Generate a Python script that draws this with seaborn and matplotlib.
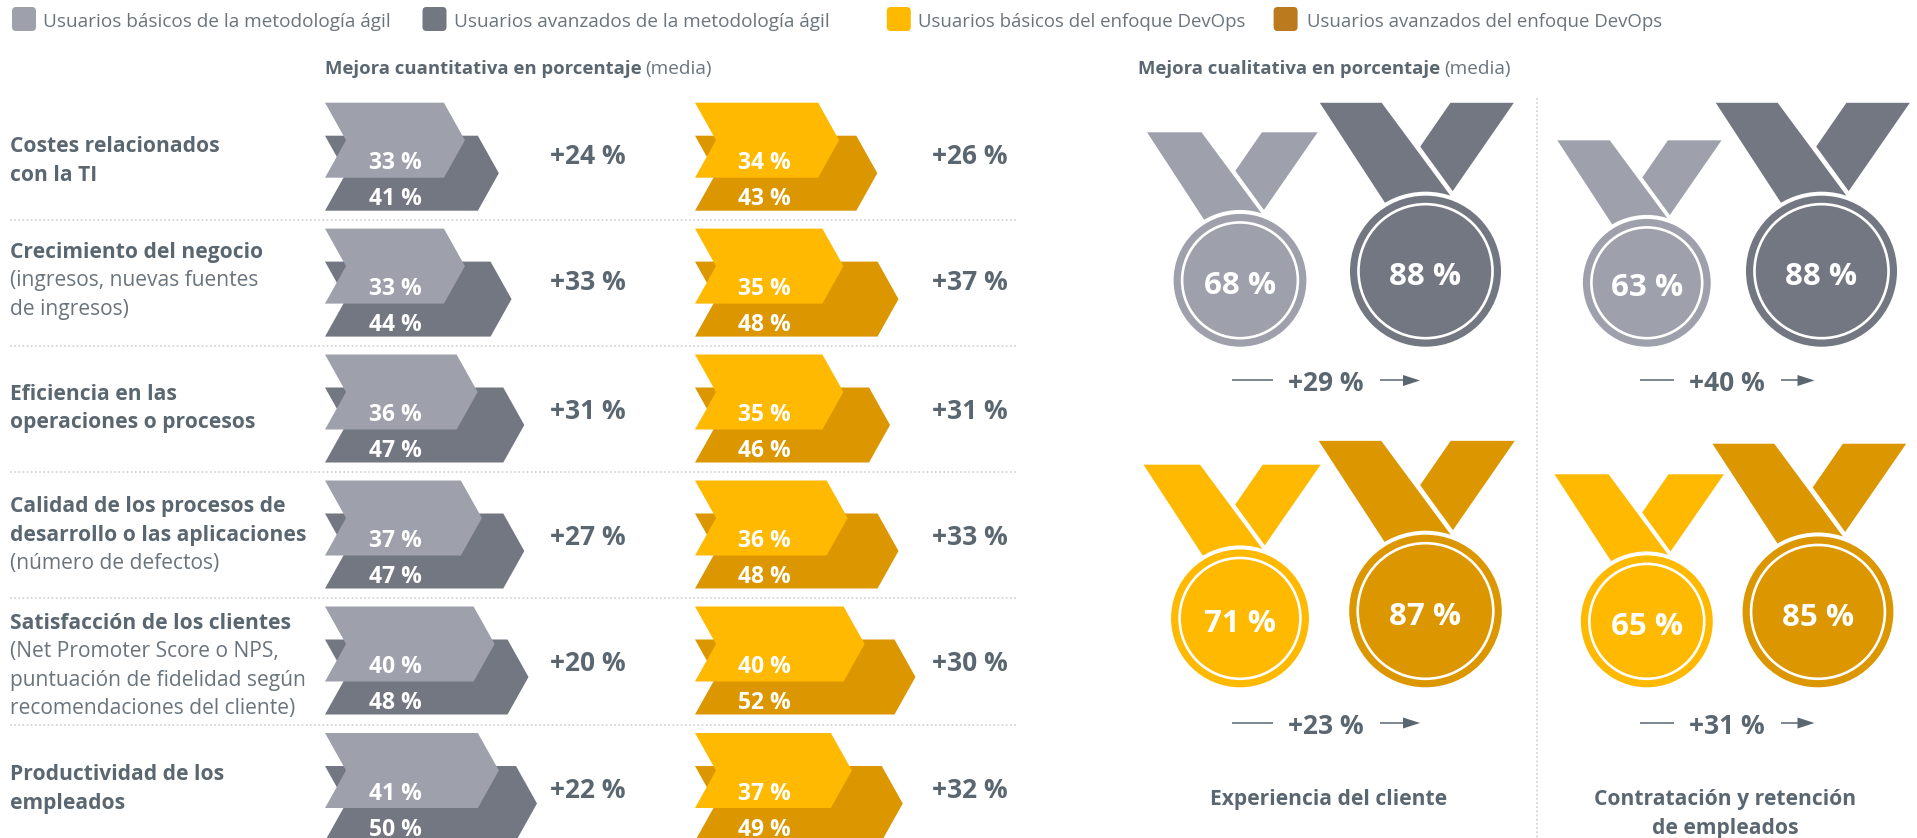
import matplotlib
matplotlib.use("Agg")
import matplotlib.pyplot as plt
from matplotlib.patches import Polygon, Circle, FancyBboxPatch
import numpy as np
import seaborn as sns

sns.set_theme(style="white")
plt.rcParams['font.family'] = ['Open Sans', 'DejaVu Sans']

# ---- data ----
row_labels = [
    [("Costes relacionados", True), ("con la TI", True)],
    [("Crecimiento del negocio", True), ("(ingresos, nuevas fuentes", False), ("de ingresos)", False)],
    [("Eficiencia en las", True), ("operaciones o procesos", True)],
    [("Calidad de los procesos de", True), ("desarrollo o las aplicaciones", True), ("(número de defectos)", False)],
    [("Satisfacción de los clientes", True), ("(Net Promoter Score o NPS,", False),
     ("puntuación de fidelidad según", False), ("recomendaciones del cliente)", False)],
    [("Productividad de los", True), ("empleados", True)],
]
agile_basic = [33, 33, 36, 37, 40, 41]
agile_adv = [41, 44, 47, 47, 48, 50]
agile_delta = [24, 33, 31, 27, 20, 22]
devops_basic = [34, 35, 35, 36, 40, 37]
devops_adv = [43, 48, 46, 48, 52, 49]
devops_delta = [26, 37, 31, 33, 30, 32]

qual_groups = ["Experiencia del cliente", "Contratación y retención\nde empleados"]
qual_agile_basic = [68, 63]
qual_agile_adv = [88, 88]
qual_agile_delta = [29, 40]
qual_devops_basic = [71, 65]
qual_devops_adv = [87, 85]
qual_devops_delta = [23, 31]

legend_labels = ["Usuarios básicos de la metodología ágil", "Usuarios avanzados de la metodología ágil",
                 "Usuarios básicos del enfoque DevOps", "Usuarios avanzados del enfoque DevOps"]

# ---- styles ----
LIGHT, DARK, GOLD, AMBER = sns.color_palette(["#9EA1AB", "#737782", "#FFB900", "#DB9600"])
LEG_AMBER = "#BB7A1D"
INK = "#5A6670"
SOFT = "#6A747C"
DOT = "#CFCFCF"

fig = plt.figure(figsize=(19.17, 8.38), dpi=100, facecolor="white")
ax = fig.add_axes([0, 0, 1, 1])
ax.set_xlim(0, 1917)
ax.set_ylim(838, 0)
ax.axis("off")


def txt(x, y, s, size=14.5, bold=False, color=INK, ha="left", **kw):
    # y is the visual centre of the capitals/digits
    base = y + 0.357 * size * 100 / 72
    ax.text(x, base, s, fontsize=size, fontweight="bold" if bold else "normal", color=color,
            ha=ha, va="baseline", zorder=10, **kw)


# legend
for (x0, w, col), xt, lab, fs in zip([(12, 24, LIGHT), (422.5, 24, DARK), (886.8, 24, GOLD), (1273.6, 24, LEG_AMBER)],
                                     [43, 454, 918, 1307], legend_labels, [13.7, 13.7, 13.4, 13.4]):
    ax.add_patch(FancyBboxPatch((x0 + 4, 11), w - 8, 16, boxstyle="round,pad=4,rounding_size=4",
                                fc=col, ec="none"))
    txt(xt, 20, lab, size=fs, color=SOFT)

# headers
txt(325, 67, "Mejora cuantitativa en porcentaje", size=13.3, bold=True)
txt(645, 67, "(media)", size=13.7, color=SOFT)
txt(1137.5, 67, "Mejora cualitativa en porcentaje", size=13.3, bold=True)
txt(1444, 67, "(media)", size=13.7, color=SOFT)

# dotted dividers
for y in [220, 346, 472, 598, 725]:
    ax.plot([10, 1016], [y, y], color=DOT, lw=1.2, ls=(0, (1, 1.5)))
ax.plot([1537, 1537], [98, 838], color=DOT, lw=1.2, ls=(0, (1, 1.5)))

# chevrons
SCALE = 4.24
NOTCH = 21
H = 75


def chevron(x0, ytop, value, color, z):
    w = value * SCALE
    ym = ytop + H / 2
    pts = [(x0, ytop), (x0 + w - NOTCH, ytop), (x0 + w, ym), (x0 + w - NOTCH, ytop + H),
           (x0, ytop + H), (x0 + NOTCH, ym)]
    ax.add_patch(Polygon(pts, closed=True, fc=color, ec="none", zorder=z))


row_tops = [102.7, 228.6, 354.5, 480.5, 606.5, 733]
delta_ys = [155, 281, 410, 536, 662, 789]
series = [(325, agile_basic, agile_adv, agile_delta, LIGHT, DARK, 395, 588),
          (695, devops_basic, devops_adv, devops_delta, GOLD, AMBER, 764, 969.5)]
for x0, bas, adv, dlt, c1, c2, xt, xd in series:
    for i, top in enumerate(row_tops):
        chevron(x0, top + 33, adv[i], c2, 2)
        chevron(x0, top, bas[i], c1, 3)
        txt(xt, top + 58.5, f"{bas[i]} %", size=16.5, bold=True, color="white", ha="center")
        txt(xt, top + 94.5, f"{adv[i]} %", size=16.5, bold=True, color="white", ha="center")
        txt(xd, delta_ys[i], f"+{dlt[i]} %", size=19, bold=True, ha="center")

# row labels
first_line_y = [145, 250.5, 392.5, 505, 621.5, 773]
for lines, y0 in zip(row_labels, first_line_y):
    for k, (s, b) in enumerate(lines):
        txt(10, y0 + k * 28.3, s, size=15.1, bold=b, color=INK if b else SOFT)

# medals
LEFT_RIB = np.array([(-1.40, -2.23), (-0.58, -2.23), (0.33, -1.00), (-0.50, -0.85)])
RIGHT_RIB = np.array([(0.33, -2.23), (1.17, -2.23), (0.36, -1.06), (-0.07, -1.65)])


def medal(cx, bottom, value, k, color):
    r = k * np.sqrt(value)
    cy = bottom - r
    for rib in (LEFT_RIB, RIGHT_RIB):
        ax.add_patch(Polygon(np.c_[cx + rib[:, 0] * r, cy + rib[:, 1] * r], closed=True, fc=color, ec="none", zorder=2))
    ax.add_patch(Circle((cx, cy), r + 4, fc="white", ec="none", zorder=3))
    ax.add_patch(Circle((cx, cy), r, fc=color, ec="none", zorder=4))
    ax.add_patch(Circle((cx, cy), r - 8.5, fc=color, ec="white", lw=1.9, zorder=5))
    txt(cx, cy + 2.5, f"{value} %", size=22.5, bold=True, color="white", ha="center")


def delta_arrow(x1, x2, x3, x4, xt, y, value):
    ax.plot([x1, x2], [y, y], color=INK, lw=1.1, solid_capstyle="butt")
    ax.plot([x3, x4 - 10], [y, y], color=INK, lw=1.1, solid_capstyle="butt")
    ax.add_patch(Polygon([(x4 - 17, y - 5.5), (x4, y), (x4 - 17, y + 5.5)], closed=True, fc=INK, ec="none"))
    txt(xt, y + 1.5, f"+{value} %", size=19, bold=True, ha="center")


cols = [(1240, 1425.5, 1232, 1273, 1380, 1420, 1325.6),
        (1646.8, 1820, 1640, 1674, 1781, 1814.5, 1727)]
for j, (c1, c2, a, b, c, d, xt) in enumerate(cols):
    medal(c1, 346.7, qual_agile_basic[j], 8.05, LIGHT)
    medal(c2 + (1.5 if j else 0), 346.7, qual_agile_adv[j], 8.05, DARK)
    delta_arrow(a, b, c, d, xt, 380.5, qual_agile_delta[j])
    medal(c1, 687.3, qual_devops_basic[j], 8.18, GOLD)
    medal(c2 - (2 if j else 0), 687.3, qual_devops_adv[j], 8.18, AMBER)
    delta_arrow(a, b, c, d, xt, 723, qual_devops_delta[j])
    for k, line in enumerate(qual_groups[j].split("\n")):
        txt(xt + (3 if j == 0 else -2), 798 + k * 29, line, size=15.1, bold=True, ha="center")

fig.savefig("out.png", dpi=100, facecolor="white")
